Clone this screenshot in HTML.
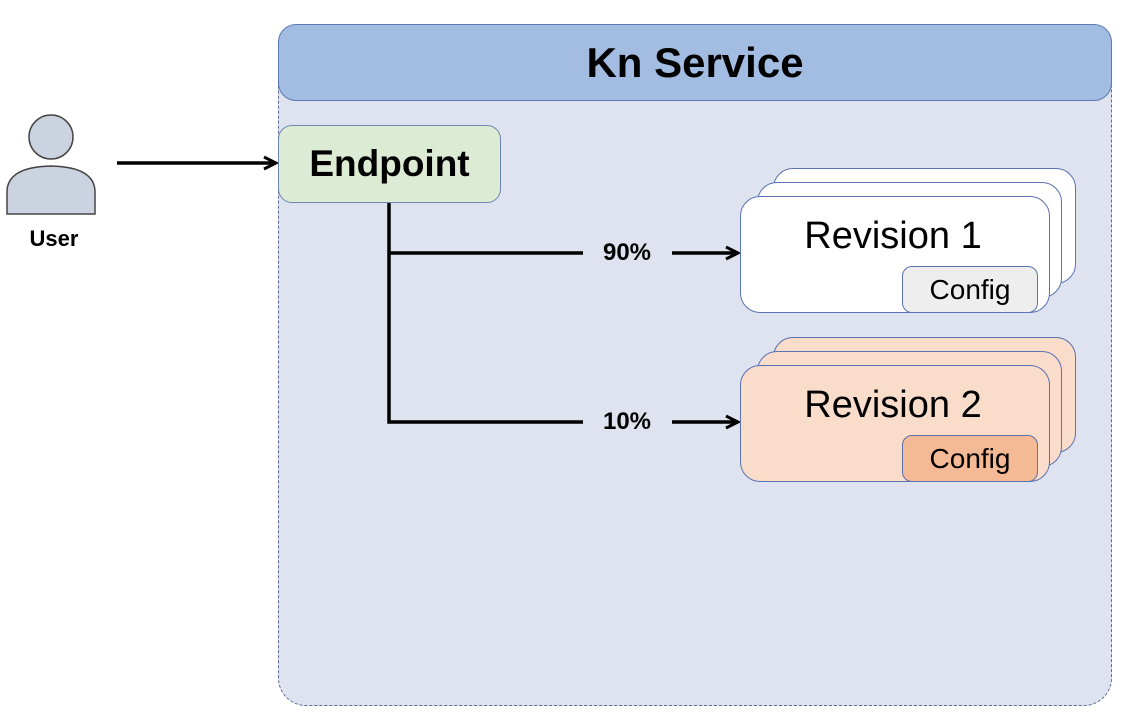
<!DOCTYPE html>
<html><head><style>
body{margin:0;width:1125px;height:717px;background:#fff;position:relative;overflow:hidden;font-family:"Liberation Sans",sans-serif}
div{position:absolute;box-sizing:border-box}
.t{display:flex;align-items:center;justify-content:center}
</style></head><body>
<div style="left:278px;top:24px;width:834px;height:682px;border-radius:28px;background:#dfe3ef;border:1.5px dashed #5a6a94"></div>
<div class="t" style="left:278px;top:24px;width:834px;height:77px;border-radius:18px;background:#a2bce2;border:1.5px solid #5a79b0;font-weight:bold;font-size:42px;color:#000">Kn Service</div>
<div class="t" style="left:278px;top:125px;width:223px;height:78px;border-radius:14px;background:#dbebd4;border:1.5px solid #6a86b0;font-weight:bold;font-size:37px">Endpoint</div>
<svg style="position:absolute;left:0;top:0" width="1125" height="717">
<defs><marker id="a" markerWidth="16" markerHeight="16" refX="14" refY="8" orient="auto" markerUnits="userSpaceOnUse"><path d="M2,2 L14,8 L2,14" fill="none" stroke="#000" stroke-width="3"/></marker></defs>
<circle cx="51" cy="137" r="22" fill="#cbd3e0" stroke="#444" stroke-width="1.5"/>
<path d="M7,214 L7,192 Q7,167 51,166 Q95,167 95,192 L95,214 Z" fill="#cbd3e0" stroke="#444" stroke-width="1.5"/>
<line x1="117" y1="163" x2="276" y2="163" stroke="#000" stroke-width="3.5" marker-end="url(#a)"/>
<polyline points="389,203 389,422 583,422" fill="none" stroke="#000" stroke-width="3.5"/>
<line x1="389" y1="253" x2="583" y2="253" stroke="#000" stroke-width="3.5"/>
<line x1="672" y1="253" x2="738" y2="253" stroke="#000" stroke-width="3.5" marker-end="url(#a)"/>
<line x1="672" y1="422" x2="738" y2="422" stroke="#000" stroke-width="3.5" marker-end="url(#a)"/>
</svg>
<div class="t" style="left:20px;top:224px;width:68px;height:30px;font-weight:bold;font-size:22px">User</div>
<div class="t" style="left:590px;top:238px;width:74px;height:30px;font-weight:bold;font-size:24px">90%</div>
<div class="t" style="left:590px;top:407px;width:74px;height:30px;font-weight:bold;font-size:24px">10%</div>
<div style="left:773px;top:168px;width:303px;height:116px;border-radius:20px;background:#fff;border:1.5px solid #5a72b0"></div>
<div style="left:757px;top:182px;width:305px;height:116px;border-radius:20px;background:#fff;border:1.5px solid #5a72b0"></div>
<div style="left:740px;top:196px;width:310px;height:117px;border-radius:20px;background:#fff;border:1.5px solid #5a72b0"></div>
<div class="t" style="left:740px;top:212px;width:306px;height:48px;font-size:38px">Revision 1</div>
<div class="t" style="left:902px;top:266px;width:136px;height:47px;border-radius:10px;background:#eeeeee;border:1.5px solid #5a72b0;font-size:28px">Config</div>
<div style="left:773px;top:337px;width:303px;height:116px;border-radius:20px;background:#fadccb;border:1.5px solid #5a72b0"></div>
<div style="left:757px;top:351px;width:305px;height:116px;border-radius:20px;background:#fadccb;border:1.5px solid #5a72b0"></div>
<div style="left:740px;top:365px;width:310px;height:117px;border-radius:20px;background:#fadccb;border:1.5px solid #5a72b0"></div>
<div class="t" style="left:740px;top:381px;width:306px;height:48px;font-size:38px">Revision 2</div>
<div class="t" style="left:902px;top:435px;width:136px;height:47px;border-radius:10px;background:#f4b995;border:1.5px solid #5a72b0;font-size:28px">Config</div>
</body></html>
